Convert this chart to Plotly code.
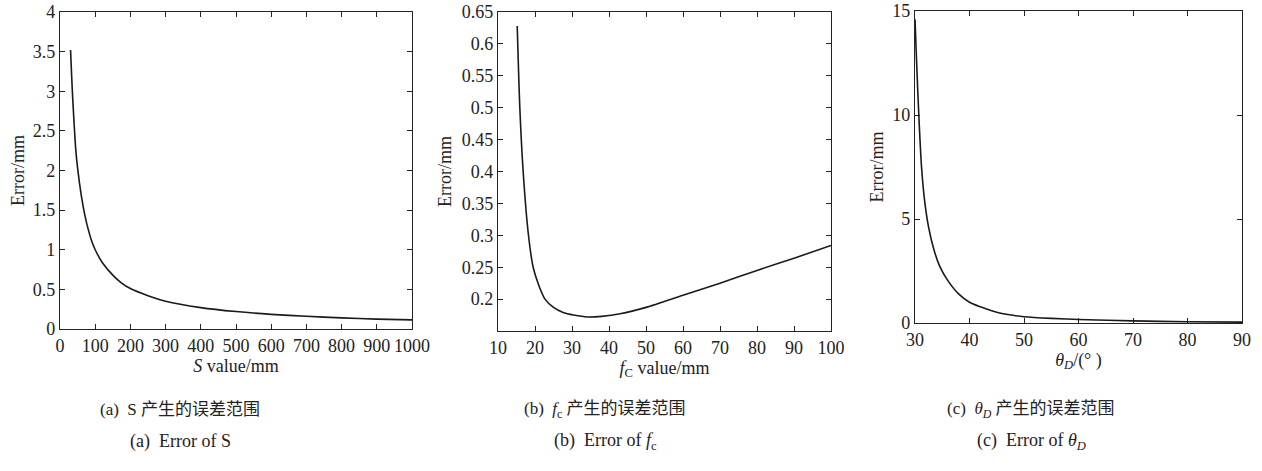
import plotly.graph_objects as go

# (a) Error of S
s_values = [30, 33, 36, 40, 45, 50, 60, 70, 80, 90, 100, 120, 150, 175, 200, 250, 300, 400, 500, 600, 700, 800, 900, 1000]
s_error = [3.52, 3.2, 2.92, 2.6, 2.25, 2.03, 1.7, 1.45, 1.26, 1.11, 1.0, 0.84, 0.68, 0.58, 0.51, 0.42, 0.35, 0.27, 0.22, 0.185, 0.16, 0.14, 0.125, 0.115]

# (b) Error of f_c
fc_values = [15.2, 15.9, 16.8, 18.2, 19.5, 21, 22.7, 25, 27.6, 30.4, 34.3, 38, 43, 50, 60, 70, 80, 90, 100]
fc_error = [0.628, 0.5, 0.4, 0.302, 0.25, 0.222, 0.2, 0.187, 0.179, 0.175, 0.172, 0.173, 0.177, 0.187, 0.206, 0.225, 0.245, 0.264, 0.284]

# (c) Error of theta_D
theta_values = [30, 30.3, 30.7, 31.2, 31.8, 32.5, 33.5, 34.5, 36, 38, 40, 42, 45, 48, 50, 55, 60, 70, 80, 90]
theta_error = [14.6, 12.5, 10.0, 7.5, 5.8, 4.6, 3.5, 2.75, 2.05, 1.4, 1.0, 0.78, 0.52, 0.37, 0.3, 0.22, 0.17, 0.1, 0.06, 0.04]

W, H = 1262, 471
SERIF = "Liberation Serif, Times New Roman, serif"
CJK = "Noto Sans CJK SC"

def cjk(t):
    return f"<span style='font-family:{CJK};font-size:17px'>{t}</span>"

captions_cn = ["(a)&nbsp; S " + cjk("产生的误差范围"),
               "(b)&nbsp; <i>f</i><sub>c</sub> " + cjk("产生的误差范围"),
               "(c)&nbsp; <i>θ</i><sub><i>D</i></sub> " + cjk("产生的误差范围")]
captions_en = ["(a)&nbsp; Error of S",
               "(b)&nbsp; Error of <i>f</i><sub>c</sub>",
               "(c)&nbsp; Error of <i>θ</i><sub><i>D</i></sub>"]

def px(x):
    return x / W

def py(y):
    return 1 - y / H

fig = go.Figure()
line = dict(color="#1a1a1a", width=1.6, shape="spline", smoothing=0.8)
fig.add_trace(go.Scatter(x=s_values, y=s_error, mode="lines", line=line, xaxis="x", yaxis="y", showlegend=False))
fig.add_trace(go.Scatter(x=fc_values, y=fc_error, mode="lines", line=line, xaxis="x2", yaxis="y2", showlegend=False))
fig.add_trace(go.Scatter(x=theta_values, y=theta_error, mode="lines", line=line, xaxis="x3", yaxis="y3", showlegend=False))

axis_common = dict(
    showline=True, linecolor="#222", linewidth=1.2, mirror="ticks", automargin=False,
    ticks="inside", ticklen=5, tickcolor="#222", showgrid=False, zeroline=False,
    tickfont=dict(family=SERIF, size=18, color="#222"),
)
title_font = dict(family=SERIF, size=18, color="#222")

fig.update_layout(
    width=W, height=H, margin=dict(l=0, r=0, t=0, b=0, autoexpand=False),
    paper_bgcolor="white", plot_bgcolor="white",
    xaxis=dict(domain=[px(60), px(412)], range=[0, 1000], dtick=100, anchor="y",
               title=dict(text="<i>S</i> value/mm", font=title_font, standoff=0), **axis_common),
    yaxis=dict(domain=[py(329), py(12)], range=[0, 4], dtick=0.5, anchor="x",
               title=dict(text="Error/mm", font=title_font, standoff=3), **axis_common),
    xaxis2=dict(domain=[px(498), px(831)], range=[10, 100], dtick=10, anchor="y2",
                title=dict(text="<i>f</i><sub>C</sub> value/mm", font=title_font, standoff=0), **axis_common),
    yaxis2=dict(domain=[py(331), py(12)], range=[0.15, 0.65], anchor="x2",
                tickvals=[0.2, 0.25, 0.3, 0.35, 0.4, 0.45, 0.5, 0.55, 0.6, 0.65],
                ticktext=["0.2", "0.25", "0.3", "0.35", "0.4", "0.45", "0.5", "0.55", "0.6", "0.65"],
                title=dict(text="Error/mm", font=title_font, standoff=5), **axis_common),
    xaxis3=dict(domain=[px(915), px(1242)], range=[30, 90], dtick=10, anchor="y3",
                title=dict(text="<i>θ</i><sub><i>D</i></sub>/(° )", font=title_font, standoff=0), **axis_common),
    yaxis3=dict(domain=[py(323), py(11)], range=[0, 15], dtick=5, anchor="x3",
                title=dict(text="Error/mm", font=title_font, standoff=3), **axis_common),
)

centers = [180, 605, 1031]
for cx, cn, en in zip(centers, captions_cn, captions_en):
    fig.add_annotation(x=px(cx), y=py(407), xref="paper", yref="paper", text=cn, showarrow=False,
                       font=dict(family=SERIF, size=17, color="#222"), xanchor="center", yanchor="middle")
    fig.add_annotation(x=px(cx), y=py(441), xref="paper", yref="paper", text=en, showarrow=False,
                       font=dict(family=SERIF, size=18, color="#222"), xanchor="center", yanchor="middle")

fig.write_html("out.html")
